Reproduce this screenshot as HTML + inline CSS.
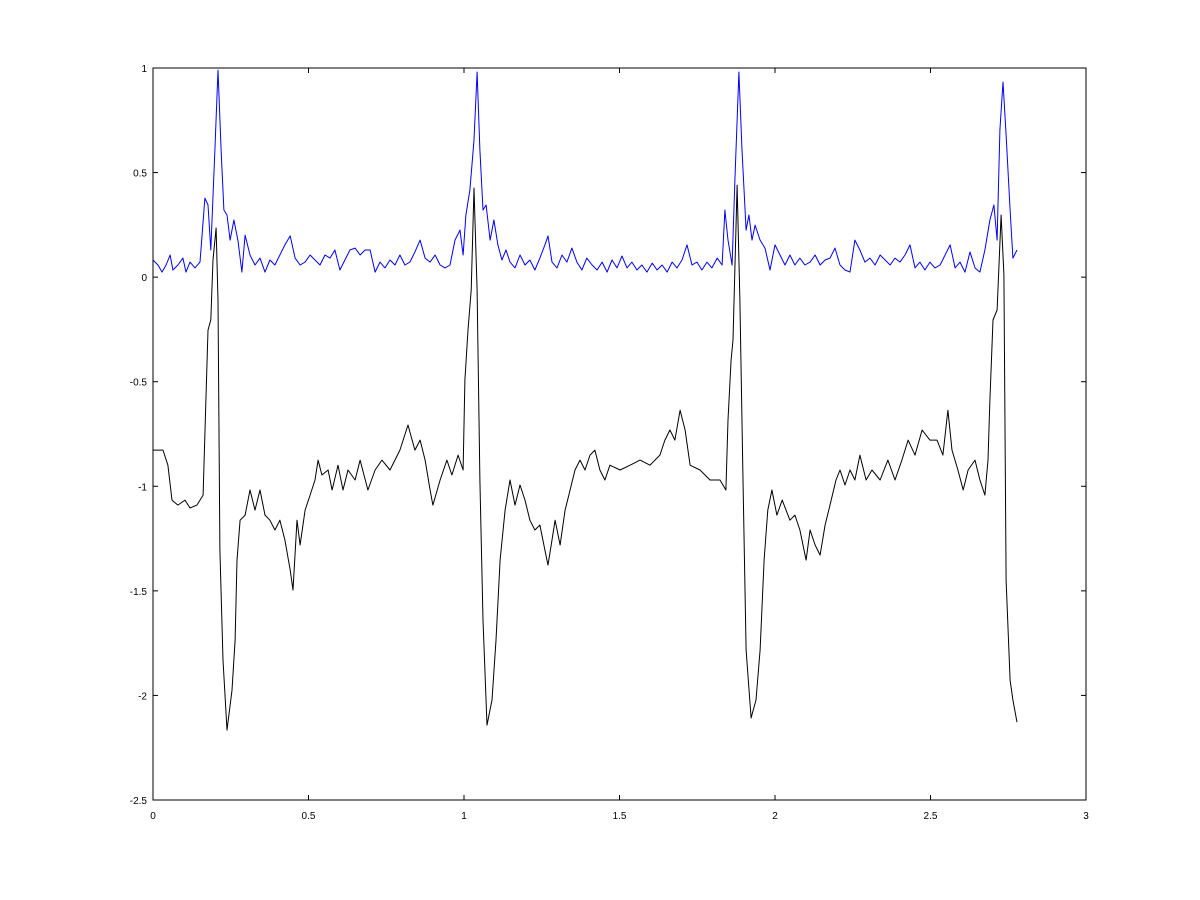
<!DOCTYPE html>
<html><head><meta charset="utf-8"><style>
body{margin:0;background:#fff;}
svg{display:block;font-family:"Liberation Sans",sans-serif;}
</style></head><body>
<svg id="chart" width="1200" height="900">
<rect x="0" y="0" width="1200" height="900" fill="#fff"/>
<g id="ticks"></g>
<g id="series"></g>
<rect x="153" y="68" width="933" height="732" fill="none" stroke="#000" stroke-width="1"/>
</svg>
<script>
const xTicks=[0,0.5,1,1.5,2,2.5,3];
const xTickLabels=["0","0.5","1","1.5","2","2.5","3"];
const yTicks=[1,0.5,0,-0.5,-1,-1.5,-2,-2.5];
const yTickLabels=["1","0.5","0","-0.5","-1","-1.5","-2","-2.5"];
const blueT=[0,.016,.029,.042,.055,.064,.080,.096,.106,.119,.135,.151,.167,.177,.186,.199,.209,.219,.228,.238,.248,.260,.273,.286,.296,.312,.328,.344,.360,.376,.392,.408,.424,.441,.457,.473,.489,.505,.521,.537,.553,.569,.585,.601,.617,.633,.650,.666,.682,.698,.714,.730,.746,.762,.778,.794,.810,.826,.842,.859,.875,.891,.907,.923,.939,.955,.971,.987,.997,1.006,1.019,1.032,1.042,1.051,1.061,1.071,1.084,1.096,1.109,1.122,1.135,1.148,1.164,1.180,1.196,1.212,1.228,1.244,1.260,1.270,1.283,1.299,1.315,1.331,1.347,1.363,1.379,1.395,1.412,1.428,1.444,1.460,1.476,1.492,1.508,1.524,1.540,1.556,1.572,1.588,1.605,1.621,1.637,1.653,1.669,1.685,1.701,1.717,1.733,1.749,1.765,1.781,1.797,1.814,1.830,1.839,1.849,1.862,1.871,1.884,1.894,1.907,1.916,1.926,1.936,1.952,1.968,1.984,2.000,2.016,2.032,2.048,2.064,2.080,2.096,2.113,2.129,2.145,2.161,2.177,2.193,2.209,2.225,2.241,2.257,2.273,2.289,2.305,2.322,2.338,2.354,2.370,2.386,2.402,2.418,2.434,2.450,2.466,2.482,2.498,2.514,2.531,2.547,2.563,2.579,2.595,2.611,2.627,2.643,2.659,2.675,2.691,2.704,2.714,2.723,2.733,2.743,2.756,2.765,2.778];
const blueV=[0.082,0.058,0.024,0.058,0.106,0.034,0.058,0.091,0.024,0.072,0.044,0.072,0.378,0.345,0.130,0.608,0.990,0.608,0.321,0.297,0.177,0.273,0.177,0.024,0.201,0.106,0.058,0.091,0.024,0.082,0.058,0.106,0.154,0.197,0.091,0.058,0.072,0.106,0.082,0.058,0.106,0.091,0.130,0.034,0.082,0.130,0.139,0.106,0.130,0.130,0.024,0.072,0.044,0.082,0.058,0.106,0.058,0.072,0.120,0.177,0.091,0.072,0.106,0.058,0.044,0.058,0.177,0.225,0.106,0.297,0.417,0.656,0.981,0.608,0.321,0.345,0.177,0.273,0.154,0.082,0.130,0.072,0.044,0.106,0.058,0.082,0.034,0.091,0.154,0.197,0.072,0.044,0.106,0.072,0.139,0.072,0.034,0.091,0.058,0.034,0.072,0.024,0.082,0.044,0.101,0.044,0.072,0.034,0.058,0.024,0.067,0.034,0.058,0.024,0.072,0.044,0.082,0.154,0.058,0.072,0.034,0.072,0.044,0.091,0.058,0.321,0.177,0.058,0.464,0.981,0.608,0.225,0.297,0.177,0.249,0.177,0.139,0.034,0.154,0.106,0.058,0.106,0.058,0.091,0.058,0.072,0.106,0.058,0.082,0.091,0.139,0.058,0.034,0.024,0.177,0.130,0.072,0.091,0.058,0.106,0.082,0.058,0.091,0.072,0.106,0.154,0.044,0.072,0.034,0.072,0.044,0.058,0.106,0.154,0.044,0.072,0.024,0.120,0.044,0.024,0.130,0.273,0.345,0.177,0.703,0.933,0.680,0.321,0.091,0.130];
const blackT=[0,.032,.048,.061,.080,.103,.119,.141,.161,.170,.177,.186,.193,.203,.209,.215,.225,.238,.254,.264,.270,.280,.296,.312,.328,.344,.360,.376,.392,.408,.424,.441,.450,.463,.473,.489,.505,.521,.531,.543,.563,.576,.595,.611,.627,.650,.666,.691,.714,.736,.762,.794,.820,.842,.859,.875,.891,.900,.923,.945,.961,.981,.997,1.003,1.013,1.023,1.032,1.042,1.051,1.061,1.074,1.090,1.103,1.116,1.132,1.148,1.164,1.180,1.196,1.212,1.228,1.244,1.260,1.270,1.283,1.293,1.309,1.325,1.341,1.357,1.373,1.389,1.405,1.421,1.437,1.453,1.469,1.502,1.534,1.566,1.598,1.630,1.646,1.662,1.678,1.695,1.711,1.727,1.759,1.791,1.823,1.842,1.849,1.859,1.865,1.878,1.887,1.897,1.907,1.923,1.939,1.952,1.965,1.977,1.990,2.006,2.023,2.048,2.064,2.080,2.100,2.113,2.129,2.145,2.161,2.177,2.196,2.209,2.225,2.241,2.257,2.273,2.293,2.312,2.338,2.363,2.386,2.408,2.428,2.450,2.473,2.498,2.521,2.540,2.556,2.569,2.588,2.605,2.621,2.643,2.659,2.675,2.685,2.691,2.701,2.714,2.727,2.736,2.743,2.756,2.765,2.778];
const blackV=[-0.827,-0.827,-0.899,-1.066,-1.090,-1.066,-1.104,-1.090,-1.042,-0.588,-0.253,-0.205,0.082,0.235,-0.110,-1.305,-1.831,-2.166,-1.975,-1.736,-1.353,-1.162,-1.138,-1.018,-1.114,-1.018,-1.138,-1.162,-1.209,-1.162,-1.257,-1.401,-1.496,-1.162,-1.281,-1.114,-1.042,-0.970,-0.875,-0.946,-0.922,-1.018,-0.899,-1.018,-0.922,-0.970,-0.875,-1.018,-0.922,-0.875,-0.922,-0.827,-0.707,-0.827,-0.779,-0.875,-1.018,-1.090,-0.970,-0.875,-0.946,-0.851,-0.922,-0.492,-0.253,-0.062,0.426,-0.062,-0.970,-1.640,-2.142,-2.022,-1.736,-1.353,-1.114,-0.970,-1.090,-0.994,-1.066,-1.162,-1.209,-1.185,-1.305,-1.377,-1.257,-1.162,-1.281,-1.114,-1.018,-0.922,-0.875,-0.922,-0.851,-0.827,-0.922,-0.970,-0.899,-0.922,-0.899,-0.875,-0.899,-0.851,-0.779,-0.731,-0.779,-0.636,-0.731,-0.899,-0.922,-0.970,-0.970,-1.018,-0.683,-0.396,-0.301,0.440,-0.110,-0.970,-1.783,-2.108,-2.022,-1.783,-1.353,-1.114,-1.018,-1.138,-1.066,-1.162,-1.138,-1.209,-1.353,-1.209,-1.281,-1.329,-1.185,-1.090,-0.970,-0.922,-0.994,-0.922,-0.970,-0.851,-0.970,-0.922,-0.970,-0.875,-0.970,-0.875,-0.779,-0.851,-0.731,-0.779,-0.779,-0.851,-0.636,-0.827,-0.922,-1.018,-0.922,-0.875,-0.970,-1.042,-0.875,-0.588,-0.205,-0.157,0.297,0.014,-1.449,-1.927,-2.022,-2.128];
const X=t=>153+t*311;
const Y=v=>68+(1-v)*209.14;
const NS="http://www.w3.org/2000/svg";
const tg=document.getElementById('ticks');
function mk(tag,attrs,parent){const e=document.createElementNS(NS,tag);for(const k in attrs)e.setAttribute(k,attrs[k]);parent.appendChild(e);return e;}
xTicks.forEach((t,i)=>{
  const x=X(t);
  const a=mk('line',{x1:x,y1:800,x2:x,y2:795,stroke:'#000'},tg);
  
  
  const b=mk('line',{x1:x,y1:68,x2:x,y2:73,stroke:'#000'},tg);
  
  
  const l=mk('text',{x:x,y:819,'font-size':10,'text-anchor':'middle',fill:'#000'},tg);
  l.textContent=xTickLabels[i];
  
  
});
yTicks.forEach((v,i)=>{
  const y=Y(v);
  const a=mk('line',{x1:153,y1:y,x2:158,y2:y,stroke:'#000'},tg);
  
  
  const b=mk('line',{x1:1086,y1:y,x2:1081,y2:y,stroke:'#000'},tg);
  
  
  const l=mk('text',{x:147,y:y+4,'font-size':10,'text-anchor':'end',fill:'#000'},tg);
  l.textContent=yTickLabels[i];
  
  
});
const sg=document.getElementById('series');
function line(T,V,color,name){
  const d=T.map((t,i)=>(i?'L':'M')+X(t).toFixed(1)+' '+Y(V[i]).toFixed(1)).join(' ');
  const p=mk('path',{d:d,fill:'none',stroke:color,'stroke-width':1,'stroke-linejoin':'round'},sg);
  
  
}
line(blackT,blackV,'#000','black-series-line');
line(blueT,blueV,'#0000ff','blue-series-line');
</script>
</body></html>
